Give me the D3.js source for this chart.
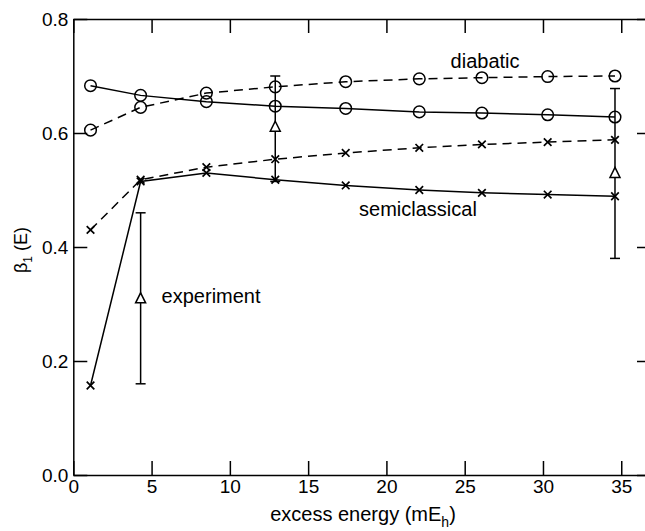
<!DOCTYPE html>
<html>
<head>
<meta charset="utf-8">
<script src="https://cdn.jsdelivr.net/npm/d3@7"></script>
<style>
  body { margin: 0; background: #fff; overflow: hidden; }
  svg { display: block; }
  text { font-family: "Liberation Sans", Arial, Helvetica, sans-serif; fill: #000; }
</style>
</head>
<body>
<div id="chart"></div>
<script>
// beta_1(E) vs excess energy

const energy = [1.1, 4.3, 8.5, 12.9, 17.4, 22.1, 26.1, 30.3, 34.6];
const circlesSolid = [0.683, 0.666, 0.655, 0.647, 0.643, 0.637, 0.635, 0.632, 0.628];
const circlesDashed = [0.605, 0.645, 0.670, 0.681, 0.690, 0.695, 0.697, 0.699, 0.700];
const crossesDashed = [0.430, 0.518, 0.540, 0.554, 0.565, 0.574, 0.580, 0.584, 0.588];
const crossesSolid = [0.157, 0.515, 0.530, 0.518, 0.508, 0.500, 0.495, 0.492, 0.489];

const expEnergy = [4.3, 12.9, 34.6];
const expValue = [0.310, 0.611, 0.530];
const expLow = [0.160, 0.515, 0.380];
const expHigh = [0.460, 0.700, 0.678];

const xTicks = [0, 5, 10, 15, 20, 25, 30, 35];
const yTicks = [0.0, 0.2, 0.4, 0.6, 0.8];

const width = 645;
const height = 531;
const margin = {top: 19, right: -6, bottom: 56, left: 73.3};
const innerWidth = width - margin.left - margin.right;
const innerHeight = height - margin.top - margin.bottom;

const svg = d3.select("#chart")
    .append("svg")
    .attr("width", width)
    .attr("height", height);

const g = svg.append("g")
    .attr("transform", `translate(${margin.left}, ${margin.top})`);

const x = d3.scaleLinear().domain([0, 36.9]).range([0, innerWidth]);
const y = d3.scaleLinear().domain([0, 0.8]).range([innerHeight, 0]);

// frame with inward ticks on all four sides
function styleAxis(sel) {
    sel.selectAll("path, line").attr("stroke", "#000").attr("stroke-width", 1.5);
    sel.selectAll("text").style("font-size", "19px").attr("fill", "#000");
}

g.append("g")
    .attr("transform", `translate(0, ${innerHeight})`)
    .call(d3.axisBottom(x).tickValues(xTicks).tickSizeInner(-14).tickSizeOuter(0).tickPadding(5).tickFormat(d3.format("d")))
    .call(styleAxis);

g.append("g")
    .call(d3.axisTop(x).tickValues(xTicks).tickSizeInner(-14).tickSizeOuter(0))
    .call(styleAxis)
    .call(a => a.selectAll("text").remove());

g.append("g")
    .call(d3.axisLeft(y).tickValues(yTicks).tickSizeInner(-14).tickSizeOuter(0).tickPadding(5).tickFormat(d3.format(".1f")))
    .call(styleAxis);

g.append("g")
    .attr("transform", `translate(${innerWidth}, 0)`)
    .call(d3.axisRight(y).tickValues(yTicks).tickSizeInner(-14).tickSizeOuter(0))
    .call(styleAxis)
    .call(a => a.selectAll("text").remove());

// series
const series = [
    {values: circlesSolid, dash: null, marker: "circle"},
    {values: circlesDashed, dash: "9,6", marker: "circle"},
    {values: crossesDashed, dash: "9,6", marker: "cross"},
    {values: crossesSolid, dash: null, marker: "cross"}
];

const line = d3.line()
    .x(d => x(d[0]))
    .y(d => y(d[1]));

series.forEach(s => {
    const pts = energy.map((e, i) => [e, s.values[i]]);

    g.append("path")
        .datum(pts)
        .attr("d", line)
        .attr("fill", "none")
        .attr("stroke", "#000")
        .attr("stroke-width", 1.5)
        .attr("stroke-dasharray", s.dash);

    if (s.marker === "circle") {
        g.append("g").selectAll("circle")
            .data(pts)
            .join("circle")
            .attr("cx", d => x(d[0]))
            .attr("cy", d => y(d[1]))
            .attr("r", 5.8)
            .attr("fill", "none")
            .attr("stroke", "#000")
            .attr("stroke-width", 1.5);
    } else {
        g.append("g").selectAll("path")
            .data(pts)
            .join("path")
            .attr("transform", d => `translate(${x(d[0])}, ${y(d[1])})`)
            .attr("d", "M-3.8,-3.8L3.8,3.8M-3.8,3.8L3.8,-3.8")
            .attr("fill", "none")
            .attr("stroke", "#000")
            .attr("stroke-width", 1.7);
    }
});

// experiment with error bars
const expData = expEnergy.map((e, i) => ({e, v: expValue[i], lo: expLow[i], hi: expHigh[i]}));

const err = g.append("g").selectAll("g")
    .data(expData)
    .join("g")
    .attr("stroke", "#000")
    .attr("stroke-width", 1.5)
    .attr("fill", "none");

err.append("line")
    .attr("x1", d => x(d.e)).attr("x2", d => x(d.e))
    .attr("y1", d => y(d.lo)).attr("y2", d => y(d.hi));

err.append("line")
    .attr("x1", d => x(d.e) - 5).attr("x2", d => x(d.e) + 5)
    .attr("y1", d => y(d.hi)).attr("y2", d => y(d.hi));

err.append("line")
    .attr("x1", d => x(d.e) - 5).attr("x2", d => x(d.e) + 5)
    .attr("y1", d => y(d.lo)).attr("y2", d => y(d.lo));

err.append("path")
    .attr("transform", d => `translate(${x(d.e)}, ${y(d.v)})`)
    .attr("d", "M0,-5.5L5,4.5L-5,4.5Z")
    .attr("fill", "#fff");

// annotations
const notes = [
    {text: "diabatic", e: 24.1, v: 0.714},
    {text: "semiclassical", e: 18.25, v: 0.454},
    {text: "experiment", e: 5.64, v: 0.302}
];

g.append("g").selectAll("text")
    .data(notes)
    .join("text")
    .attr("x", d => x(d.e))
    .attr("y", d => y(d.v))
    .style("font-size", "20px")
    .text(d => d.text);

// axis titles
const xTitle = svg.append("text")
    .attr("x", 363)
    .attr("y", 521)
    .attr("text-anchor", "middle")
    .style("font-size", "20px");
xTitle.append("tspan").text("excess energy (mE");
xTitle.append("tspan").attr("dy", 6).style("font-size", "14px").text("h");
xTitle.append("tspan").attr("dy", -6).text(")");

const yTitle = svg.append("text")
    .attr("transform", "translate(27, 250) rotate(-90)")
    .attr("text-anchor", "middle")
    .style("font-size", "18px");
yTitle.append("tspan").text("\u03B2");
yTitle.append("tspan").attr("dy", 5).style("font-size", "12px").text("1");
yTitle.append("tspan").attr("dy", -5).text(" (E)");
</script>
</body>
</html>
